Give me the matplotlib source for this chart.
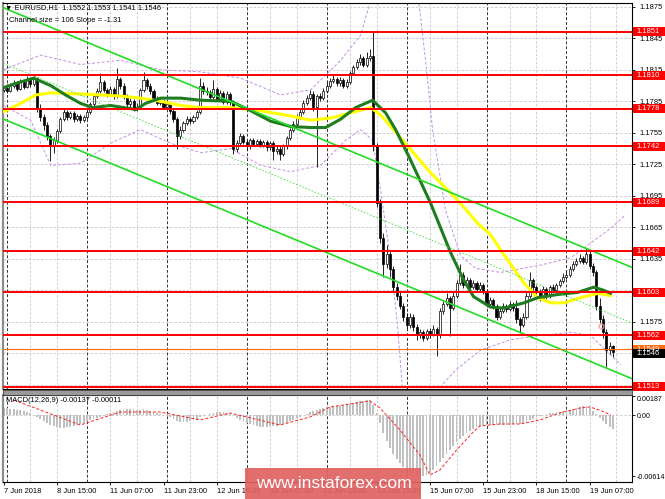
import matplotlib
matplotlib.use("Agg")
import matplotlib.pyplot as plt
from matplotlib.patches import Rectangle
from matplotlib.transforms import blended_transform_factory

plt.rcParams['font.family'] = ['Liberation Sans', 'DejaVu Sans']
FS = 5.4

# EURUSD H1 bars, 7 Jun 23:00 .. 19 Jun 14:00, values in pips above 1.1500
first_open = 296
closes = [298, 295, 300, 302, 297, 303, 299, 306, 301, 307,
          278, 270, 262, 252, 242, 248, 257, 268, 275, 270,
          274, 268, 271, 267, 270, 275, 282, 290, 295, 303,
          296, 292, 297, 290, 306, 300, 290, 282, 285, 278,
          280, 296, 305, 300, 295, 288, 283, 285, 280, 282,
          276, 268, 252, 258, 264, 268, 266, 270, 275, 300,
          295, 294, 289, 297, 287, 293, 284, 292, 284, 240,
          245, 252, 246, 242, 248, 244, 247, 243, 246, 241,
          245, 238, 240, 235, 242, 250, 258, 263, 270, 275,
          283, 288, 292, 280, 290, 288, 295, 300, 304, 306,
          302, 305, 300, 303, 312, 318, 322, 326, 320, 326,
          328, 242, 188, 155, 130, 140, 125, 108, 100, 90,
          80, 72, 80, 70, 62, 65, 60, 66, 63, 68,
          62, 85, 92, 98, 88, 100, 112, 120, 110, 115,
          108, 112, 106, 110, 104, 92, 96, 90, 80, 85,
          90, 87, 92, 88, 78, 72, 80, 100, 115, 108,
          103, 98, 106, 100, 108, 105, 110, 114, 118, 120,
          125, 130, 133, 136, 132, 140, 128, 122, 90, 78,
          65, 48, 52, 46]
highs = [300, 301, 302, 305, 304, 306, 305, 309, 308, 310,
         308, 282, 273, 265, 254, 251, 259, 270, 278, 277,
         276, 276, 273, 273, 272, 277, 284, 292, 298, 312,
         305, 298, 300, 299, 317, 308, 302, 292, 288, 287,
         283, 298, 313, 307, 302, 297, 290, 288, 287, 285,
         284, 278, 270, 261, 266, 271, 270, 272, 277, 307,
         303, 299, 296, 305, 299, 296, 295, 295, 294, 286,
         248, 255, 254, 248, 250, 250, 249, 249, 248, 248,
         247, 247, 243, 242, 244, 252, 260, 266, 273, 278,
         286, 291, 296, 295, 292, 293, 298, 303, 307, 310,
         308, 308, 307, 306, 314, 320, 325, 330, 328, 332,
         335, 351, 245, 192, 160, 148, 143, 128, 112, 103,
         93, 83, 83, 82, 73, 68, 67, 68, 69, 72,
         70, 88, 95, 102, 100, 104, 115, 130, 122, 118,
         117, 115, 114, 113, 112, 106, 99, 98, 92, 88,
         93, 92, 95, 94, 96, 80, 83, 103, 122, 117,
         110, 106, 109, 108, 110, 111, 112, 116, 121, 123,
         128, 133, 136, 140, 138, 145, 142, 131, 124, 98,
         81, 68, 56, 53]
lows = [294, 293, 294, 298, 295, 296, 297, 298, 299, 300,
        275, 266, 258, 248, 228, 236, 245, 255, 266, 267,
        268, 265, 266, 264, 265, 268, 273, 280, 288, 293,
        294, 289, 290, 287, 288, 297, 287, 279, 280, 276,
        276, 278, 294, 297, 292, 285, 281, 281, 278, 278,
        273, 265, 240, 249, 256, 262, 263, 264, 268, 273,
        292, 291, 286, 287, 285, 285, 282, 282, 281, 235,
        237, 243, 244, 239, 240, 242, 242, 241, 241, 238,
        239, 229, 235, 229, 233, 240, 248, 256, 261, 268,
        273, 281, 286, 276, 222, 285, 286, 293, 298, 302,
        300, 300, 298, 298, 301, 310, 316, 320, 318, 318,
        323, 238, 184, 150, 118, 126, 118, 104, 96, 87,
        76, 68, 69, 66, 58, 60, 57, 58, 60, 61,
        42, 60, 82, 90, 61, 86, 98, 110, 107, 108,
        105, 106, 103, 104, 101, 89, 90, 87, 77, 78,
        83, 84, 85, 85, 74, 65, 70, 78, 98, 105,
        100, 95, 96, 97, 98, 102, 103, 108, 112, 116,
        118, 123, 128, 131, 130, 130, 125, 119, 86, 74,
        60, 32, 44, 41]

levels = [1.1851, 1.1810, 1.1778, 1.1742, 1.1689, 1.1642, 1.1603, 1.1562, 1.1513]
ask_level = 1.1549
last_price = 1.1546

channel_start = 1.1874   # upper channel line at bar 0
channel_size = 106       # pips
channel_slope = -1.31    # pips per bar

# moving averages (bar index, price)
ma_green_x = [0, 3.6, 9, 14.1, 18.6, 23.1, 26.7, 32.1, 38.1, 39.6, 42.6, 47.1,
              53.2, 59.2, 68.2, 74.2, 80.2, 86.2, 92.2, 96.7, 101.2, 105.7,
              110.8, 114.7, 117.7, 122.2, 128.2, 134.2, 138.1, 141.1, 146.2,
              150.2, 156.2, 160.4, 166.4, 172.4, 177.2, 180.2, 182.3]
ma_green_y = [1.1798, 1.1802, 1.1807, 1.1800, 1.1791, 1.1783, 1.1779, 1.1781,
              1.1778, 1.1777, 1.1783, 1.1788, 1.1788, 1.1786, 1.1785, 1.1776,
              1.1766, 1.1761, 1.1760, 1.1760, 1.1768, 1.1779, 1.1786, 1.1774,
              1.1758, 1.1729, 1.1688, 1.1641, 1.1615, 1.1599, 1.1589, 1.1588,
              1.1593, 1.1598, 1.1601, 1.1603, 1.1608, 1.1605, 1.1602]
ma_yellow_x = [0, 5.1, 9.6, 14.1, 23.1, 29.1, 35.1, 41.1, 47.1, 53.2, 59.2, 68.2,
               77.2, 86.2, 92.2, 98.2, 104.2, 110.2, 113.2, 117.1, 128.2, 135.7,
               142.3, 146.2, 150.2, 156.2, 160.4, 164.3, 168.2, 173.3, 178.4, 182.3]
ma_yellow_y = [1.1775, 1.1783, 1.1791, 1.1793, 1.1792, 1.1791, 1.1790, 1.1788,
               1.1785, 1.1781, 1.1779, 1.1779, 1.1776, 1.1771, 1.1767, 1.1769,
               1.1774, 1.1779, 1.1772, 1.1758, 1.1717, 1.1693, 1.1669, 1.1658,
               1.1639, 1.1612, 1.1598, 1.1593, 1.1593, 1.1598, 1.1602, 1.1600]

# envelope bands (bar index, price)
band_up_x = [0, 11.1, 23.1, 35.1, 47.1, 59.2, 71.2, 83.2, 92.2, 101.2, 107.2,
             110.2, 111.7]
band_up_y = [1.1815, 1.1829, 1.1820, 1.1824, 1.1815, 1.1813, 1.1807, 1.1791,
             1.1796, 1.1824, 1.1848, 1.1881, 1.1977]
band_up2_x = [122.2, 124.6, 126.7, 128.8, 132.7, 137.2, 141.7, 149.2, 161.3,
              170.3, 176.3, 182.3, 186.8]
band_up2_y = [1.1977, 1.1881, 1.1824, 1.1758, 1.1681, 1.1638, 1.1626, 1.1622,
              1.1629, 1.1636, 1.1650, 1.1664, 1.1677]
band_dn_x = [0, 8.1, 14.1, 23.1, 32.1, 41.1, 50.2, 59.2, 68.2, 77.2, 86.2, 95.2,
             102.7, 107.2, 110.8, 113.2, 116.2, 118.3, 119.8, 122.2, 128.2,
             130.3, 135.7, 143.2, 152.3, 161.3, 170.3, 176.3, 180.8, 185.3]
band_dn_y = [1.1781, 1.1767, 1.1724, 1.1726, 1.1745, 1.1758, 1.1745, 1.1736,
             1.1740, 1.1724, 1.1718, 1.1724, 1.1748, 1.1758, 1.1748, 1.1700,
             1.1634, 1.1570, 1.1510, 1.1462, 1.1462, 1.1510, 1.1529, 1.1548,
             1.1558, 1.1562, 1.1565, 1.1562, 1.1548, 1.1534]

# MACD(12,26,9) histogram per bar, units of 0.0001
macd_hist = [7, 7, 6, 6, 5, 5, 4, 3, 2, 0,
             -2, -4, -6, -8, -10, -11, -12, -13, -13, -12,
             -12, -11, -10, -9, -8, -6, -5, -4, -3, -2,
             -1, 1, 2, 3, 4, 5, 5, 6, 6, 6,
             5, 5, 6, 5, 4, 3, 2, 1, 0, -1,
             -2, -4, -6, -7, -7, -7, -6, -5, -4, -2,
             -1, 0, 1, 2, 3, 3, 3, 2, 1, -1,
             -3, -5, -7, -8, -9, -10, -11, -12, -12, -12,
             -11, -11, -11, -10, -9, -8, -6, -5, -3, -2,
             0, 1, 3, 4, 5, 6, 7, 8, 8, 8,
             9, 9, 10, 10, 11, 12, 13, 14, 14, 15,
             15, 10, 2, -8, -18, -26, -33, -39, -44, -48,
             -52, -55, -57, -58, -60, -61, -61, -60, -58, -55,
             -51, -47, -43, -39, -35, -31, -27, -24, -21, -18,
             -16, -14, -12, -11, -10, -10, -10, -10, -10, -10,
             -10, -10, -10, -9, -9, -9, -8, -7, -5, -4,
             -2, -1, 0, 1, 2, 2, 3, 3, 4, 5,
             5, 6, 7, 8, 9, 9, 7, 4, 1, -3,
             -6, -9, -12, -14]
signal_x = [3, 23, 35, 47, 59, 68, 83, 92, 98, 110, 113, 119, 125, 128, 131,
            136, 141, 143, 149, 155, 161, 167, 173, 176, 179, 182.3]
signal_y = [15, -10, 3, 3, -5, 2, -10, -2, 8, 14, 7, -15, -40, -60, -55, -35,
            -17, -11, -9, -9, -5, 2, 7, 8, 5, 0]

time_ticks = [0, 16, 32, 48, 64, 80, 96, 112, 128, 144, 160, 176]
time_labels = ['7 Jun 2018', '8 Jun 15:00', '11 Jun 07:00', '11 Jun 23:00',
               '12 Jun 15:00', '13 Jun 07:00', '13 Jun 23:00', '14 Jun 15:00',
               '15 Jun 07:00', '15 Jun 23:00', '18 Jun 15:00', '19 Jun 07:00']
day_starts = [1, 25, 49, 73, 97, 121, 145, 169]
price_ticks = [1.1515 + 0.003 * k for k in range(13)]
# scale labels that sit fully under a level box are not printed
hidden_ticks = ['1.1515', '1.1545', '1.1605']

W, H = 665, 499
fig = plt.figure(figsize=(W / 100, H / 100), dpi=100)
ax = fig.add_axes([3 / W, (H - 389) / H, 629 / W, 386 / H])
axm = fig.add_axes([3 / W, (H - 482) / H, 629 / W, 87 / H])

xmax = -0.2 + 629 / 3.33
for a in (ax, axm):
    a.set_xlim(-0.2, xmax)
    a.set_facecolor('white')
    for s in a.spines.values():
        s.set_linewidth(0.8)
        s.set_color('black')
    a.spines['left'].set_color('#8c8c8c')
    a.spines['left'].set_linewidth(1.6)
    for t in range(0, 190, 8):
        if min(abs(t - d) for d in day_starts) > 2:
            a.axvline(t, color='#c8c8c8', lw=0.6, ls=(0, (3, 2)), zorder=0.5)
    for d in day_starts:
        a.axvline(d, color='#333333', lw=0.7, ls=(0, (3, 2)), zorder=0.6)

ax.set_ylim(1.15110, 1.18786)
for p in price_ticks:
    ax.axhline(p, color='#c8c8c8', lw=0.6, ls=(0, (3, 2)), zorder=0.5)

# candles
opens = [first_open] + closes[:-1]
for i in range(len(closes)):
    o = 1.15 + opens[i] / 10000
    c = 1.15 + closes[i] / 10000
    hi = 1.15 + highs[i] / 10000
    lo = 1.15 + lows[i] / 10000
    ax.vlines(i, lo, hi, color='black', lw=0.6, zorder=3)
    bull = c >= o
    ax.bar(i, max(abs(c - o), 0.00004), bottom=min(o, c), width=0.62,
           color='white' if bull else 'black', edgecolor='black', lw=0.5, zorder=3.1)

ax.plot(band_up_x, band_up_y, color='#c38ee6', lw=0.7, ls=(0, (3, 2)), zorder=2)
ax.plot(band_up2_x, band_up2_y, color='#c38ee6', lw=0.7, ls=(0, (3, 2)), zorder=2)
ax.plot(band_dn_x, band_dn_y, color='#c38ee6', lw=0.7, ls=(0, (3, 2)), zorder=2)

ax.plot(ma_yellow_x, ma_yellow_y, color='#ffff00', lw=2.2, zorder=4, solid_capstyle='round')
ax.plot(ma_green_x, ma_green_y, color='#1e7d1e', lw=2.2, zorder=4.1, solid_capstyle='round')

# regression channel
cx = [-1, 190]
up = [channel_start + channel_slope / 10000 * x for x in cx]
mid = [u - channel_size / 20000 for u in up]
dn = [u - channel_size / 10000 for u in up]
ax.plot(cx, up, color='#22dd22', lw=1.2, zorder=5)
ax.plot(cx, dn, color='#22dd22', lw=1.2, zorder=5)
ax.plot(cx, mid, color='#44dd44', lw=0.6, ls=(0, (2, 2)), zorder=5)

# levels
for lv in levels:
    ax.axhline(lv, color='#ff0000', lw=1.4, zorder=6)
ax.axhline(ask_level, color='#ff6a10', lw=0.8, zorder=6)
ax.plot(179.4, 1.1571, 'o', mfc='none', mec='#ff9090', ms=3.5, mew=0.8, zorder=7)

ax.yaxis.tick_right()
ax.set_yticks(price_ticks)
ax.set_yticklabels(['' if '%.4f' % p in hidden_ticks else '%.4f' % p for p in price_ticks])
ax.tick_params(axis='y', length=2.5, width=0.6, pad=3, labelsize=FS, colors='black')
ax.set_xticks([])

# right-hand price labels
bt = blended_transform_factory(fig.transFigure, ax.transData)
hh = 9 / 10500
def price_box(val, txt, fc):
    ax.add_patch(Rectangle((633 / W, val - hh / 2), 32 / W, hh, transform=bt,
                           facecolor=fc, edgecolor='none', clip_on=False, zorder=10))
    ax.text(636 / W, val, txt, transform=bt, color='white', fontsize=FS,
            va='center', ha='left', clip_on=False, zorder=11)

for lv in levels:
    price_box(lv, '%.4f' % lv, '#ff0000')
price_box(ask_level, '%.4f' % ask_level, '#ff6a10')
price_box(last_price - 0.0001, '%.4f' % last_price, 'black')

ax.annotate('\u25bc EURUSD,H1  1.1552 1.1553 1.1541 1.1546', xy=(0, 1),
            xycoords='axes fraction', xytext=(2, -5), textcoords='offset pixels',
            fontsize=FS, va='center', ha='left', zorder=12)
ax.annotate('Channel size = %d Slope = %.2f' % (channel_size, channel_slope), xy=(0, 1),
            xycoords='axes fraction', xytext=(6, -17), textcoords='offset pixels',
            fontsize=FS, va='center', ha='left', zorder=12)

# MACD panel
axm.set_ylim(-0.0067, 0.0020)
axm.axhline(0, color='#c8c8c8', lw=0.6, ls=(0, (3, 2)), zorder=0.5)
axm.bar(range(len(macd_hist)), [v / 10000 for v in macd_hist], width=0.55,
        color='#c0c0c0', zorder=2)
axm.plot(signal_x, [v / 10000 for v in signal_y], color='#ff2020', lw=0.7,
         ls=(0, (3, 2)), zorder=3)
axm.yaxis.tick_right()
axm.set_yticks([0.00187, 0, -0.00614])
axm.set_yticklabels(['0.00187', '0.00', '-0.00614'])
axm.tick_params(axis='y', length=2, width=0.6, pad=1.5, labelsize=5.1)
axm.get_yticklabels()[0].set_va('top')
axm.set_xticks(time_ticks)
axm.set_xticklabels(time_labels)
axm.tick_params(axis='x', length=2.5, width=0.6, pad=2, labelsize=FS)
for lab in axm.get_xticklabels():
    lab.set_ha('left')
axm.annotate('MACD(12,26,9) -0.00137 -0.00011', xy=(0, 1), xycoords='axes fraction',
             xytext=(3, -6), textcoords='offset pixels', fontsize=FS, va='center',
             ha='left', zorder=12)

# panel separator
fig.patches.append(Rectangle((3 / W, (H - 395) / H), 629 / W, 5 / H,
                             transform=fig.transFigure, facecolor='#9a9a9a',
                             edgecolor='#404040', lw=0.6))

# watermark
fig.patches.append(Rectangle((245 / W, 0), 176 / W, 31 / H, transform=fig.transFigure,
                             facecolor='#e06262', edgecolor='none', alpha=0.92, zorder=20))
fig.text(334 / W, 15 / H, 'www.instaforex.com', color='white', fontsize=12.6,
         ha='center', va='center', zorder=21)

fig.savefig('out.png', dpi=100)
